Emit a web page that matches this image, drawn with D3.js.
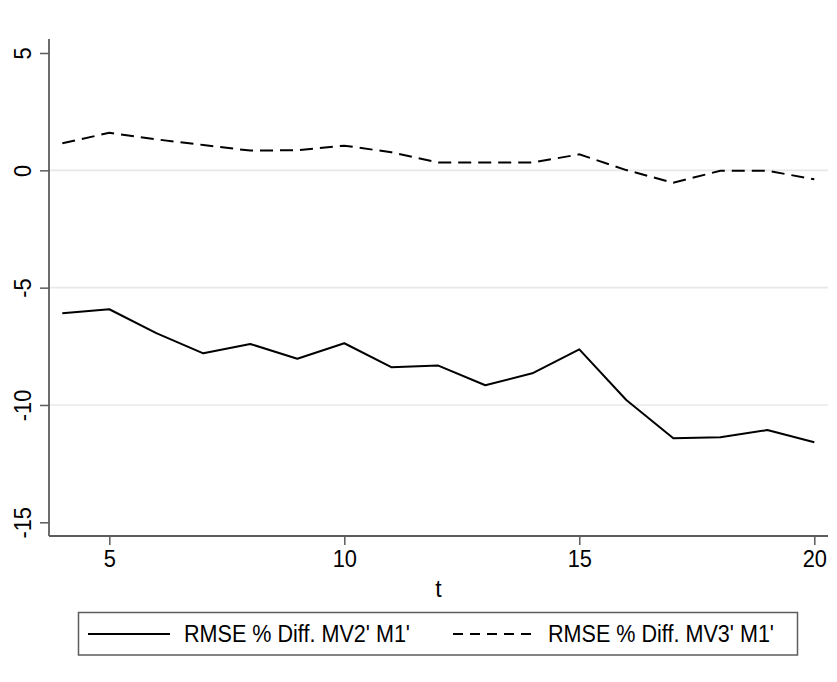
<!DOCTYPE html>
<html>
<head>
<meta charset="utf-8">
<script src="https://cdn.jsdelivr.net/npm/d3@7"></script>
<style>
  body { margin: 0; background: #fff; }
  text { font-family: "Liberation Sans", Arial, sans-serif; }
</style>
</head>
<body>
<script>
// data
var t = [4, 5, 6, 7, 8, 9, 10, 11, 12, 13, 14, 15, 16, 17, 18, 19, 20];
var mv2 = [-6.09, -5.92, -6.94, -7.80, -7.40, -8.03, -7.37, -8.39, -8.32, -9.16, -8.65, -7.63, -9.79, -11.42, -11.38, -11.07, -11.59];
var mv3 = [1.15, 1.60, 1.32, 1.08, 0.84, 0.86, 1.05, 0.77, 0.33, 0.33, 0.33, 0.68, 0.01, -0.53, -0.02, -0.02, -0.38];
var xTicks = [5, 10, 15, 20];
var yTicks = [-15, -10, -5, 0, 5];
var gridTicks = [-10, -5, 0];
var seriesNames = ["RMSE % Diff. MV2' M1'", "RMSE % Diff. MV3' M1'"];

var w = 837, h = 682;
var axisColor = "#5c5c5c";
var fontSize = "23px";

var svg = d3.select("body")
	.append("svg")
	.attr("width", w)
	.attr("height", h);

// frame of plot region (note: "top" is taken by window.top)
var plotLeft = 49, plotRight = 828, plotTop = 39, plotBottom = 536;

var x = d3.scaleLinear()
	.domain([4, 20])
	.range([62.3, 814.3]);
var y = d3.scaleLinear()
	.domain([-15, 5])
	.range([522.3, 53]);

var fmt = function(d) { return String(d); }; // plain hyphen minus

// grid lines
svg.selectAll("line.grid")
	.data(gridTicks)
	.enter()
	.append("line")
	.attr("class", "grid")
	.attr("x1", plotLeft)
	.attr("x2", plotRight)
	.attr("y1", function(d) { return y(d); })
	.attr("y2", function(d) { return y(d); })
	.attr("stroke", "#e8e8e8")
	.attr("stroke-width", 1.6);

// y axis, labels turned on their side
var yAxis = svg.append("g")
	.attr("transform", "translate(" + plotLeft + ",0)")
	.call(d3.axisLeft(y).tickValues(yTicks).tickSize(9).tickFormat(fmt));
yAxis.select(".domain").remove();
yAxis.selectAll(".tick line").attr("stroke", axisColor).attr("stroke-width", 1.5);
yAxis.selectAll(".tick text")
	.attr("font-size", fontSize)
	.attr("fill", "#000")
	.attr("text-anchor", "middle")
	.attr("dy", null)
	.attr("x", 0)
	.attr("y", 0)
	.attr("transform", "translate(-18,0) rotate(-90) scale(0.95,1)");
svg.append("line")
	.attr("x1", plotLeft).attr("x2", plotLeft)
	.attr("y1", plotTop).attr("y2", plotBottom)
	.attr("stroke", axisColor).attr("stroke-width", 1.8);

// x axis
var xAxis = svg.append("g")
	.attr("transform", "translate(0," + plotBottom + ")")
	.call(d3.axisBottom(x).tickValues(xTicks).tickSize(9).tickPadding(6).tickFormat(fmt));
xAxis.select(".domain").remove();
xAxis.selectAll(".tick line").attr("stroke", axisColor).attr("stroke-width", 1.5);
xAxis.selectAll(".tick text")
	.attr("font-size", fontSize)
	.attr("fill", "#000")
	.attr("transform", "scale(0.95,1)");
svg.append("line")
	.attr("x1", plotLeft).attr("x2", plotRight)
	.attr("y1", plotBottom).attr("y2", plotBottom)
	.attr("stroke", axisColor).attr("stroke-width", 1.8);

svg.append("text")
	.attr("x", (plotLeft + plotRight) / 2)
	.attr("y", 597)
	.attr("text-anchor", "middle")
	.attr("font-size", fontSize)
	.text("t");

// series lines
var line = d3.line()
	.x(function(d) { return x(d[0]); })
	.y(function(d) { return y(d[1]); });

svg.append("path")
	.datum(d3.zip(t, mv2))
	.attr("d", line)
	.attr("fill", "none")
	.attr("stroke", "#000")
	.attr("stroke-width", 2)
	.attr("stroke-linejoin", "round");

svg.append("path")
	.datum(d3.zip(t, mv3))
	.attr("d", line)
	.attr("fill", "none")
	.attr("stroke", "#000")
	.attr("stroke-width", 2)
	.attr("stroke-dasharray", "13,7");

// legend
var legend = svg.append("g");
legend.append("rect")
	.attr("x", 78.5).attr("y", 612.5)
	.attr("width", 719).attr("height", 42.5)
	.attr("fill", "#fff")
	.attr("stroke", axisColor)
	.attr("stroke-width", 1.5);

var legendItems = [
	{ name: seriesNames[0], x1: 88, x2: 170, tx: 184, dash: null },
	{ name: seriesNames[1], x1: 453, x2: 535, tx: 548, dash: "10,7" }
];
legendItems.forEach(function(item) {
	legend.append("line")
		.attr("x1", item.x1).attr("x2", item.x2)
		.attr("y1", 634).attr("y2", 634)
		.attr("stroke", "#000")
		.attr("stroke-width", 2)
		.attr("stroke-dasharray", item.dash);
	legend.append("text")
		.attr("x", item.tx)
		.attr("y", 642)
		.attr("font-size", fontSize)
		.attr("textLength", 226)
		.attr("lengthAdjust", "spacingAndGlyphs")
		.text(item.name);
});
</script>
</body>
</html>
